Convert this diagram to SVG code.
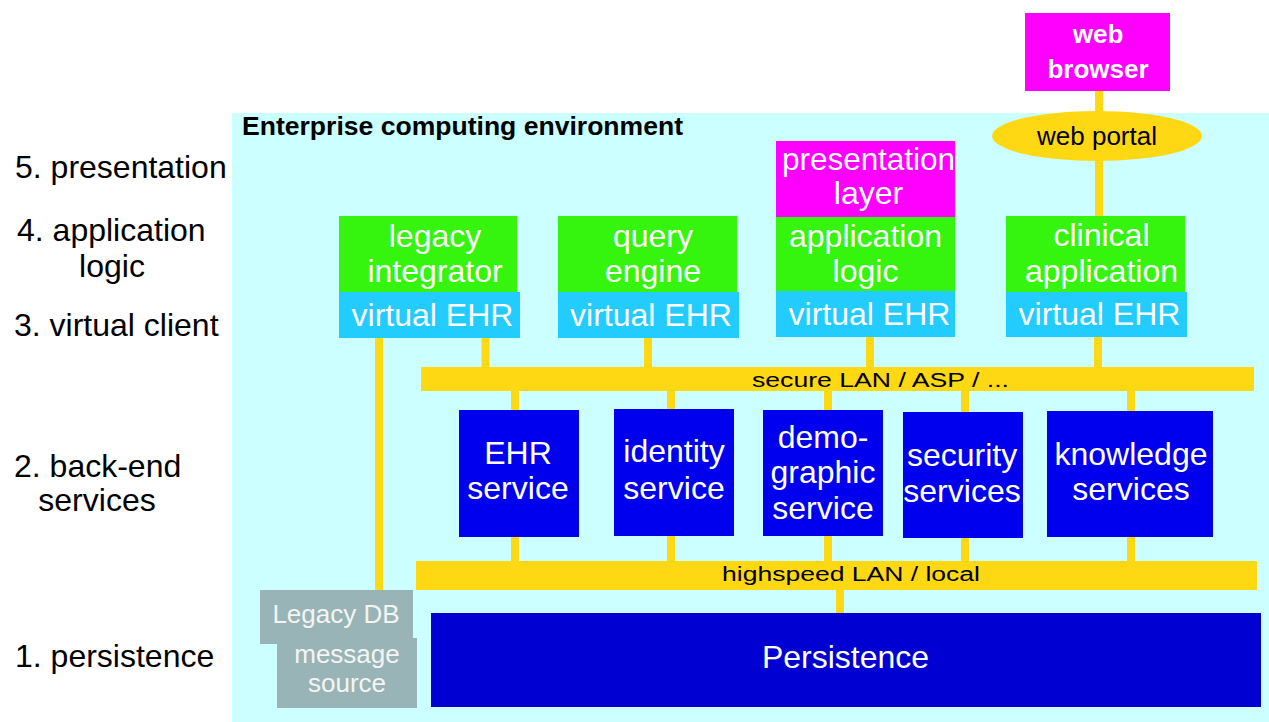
<svg xmlns="http://www.w3.org/2000/svg" width="1269" height="722" viewBox="0 0 1269 722">
<style>
text{font-family:"Liberation Sans",Arial,sans-serif;}
.lbl{font-size:32px;fill:#000;}
.w{font-size:32px;fill:#fff;text-anchor:middle;}
.g{fill:#35F50F;}
.v{fill:#22CCFF;}
.m{fill:#FF00FF;}
.s{fill:#0000EE;}
.y{fill:#FFD814;}
.gr{fill:#98B4B6;}
.bus{font-size:20px;fill:#000;text-anchor:middle;}
.con line{stroke:#FFD814;stroke-width:8;}
</style>
<rect width="1269" height="722" fill="#ffffff"/>
<rect id="enterprise" x="232" y="113" width="1037" height="609" fill="#CCFFFF"/>
<text x="242" y="135" font-size="26" font-weight="bold" textLength="441" lengthAdjust="spacingAndGlyphs">Enterprise computing environment</text>
<g id="layers">
<text class="lbl" x="15" y="178">5. presentation</text>
<text class="lbl" x="17" y="241">4. application</text>
<text class="lbl" x="112" y="277" text-anchor="middle">logic</text>
<text class="lbl" x="14" y="336">3. virtual client</text>
<text class="lbl" x="14" y="477">2. back-end</text>
<text class="lbl" x="97" y="511" text-anchor="middle">services</text>
<text class="lbl" x="15" y="667">1. persistence</text>
</g>
<g id="connectors" class="con">
<line x1="1099" y1="90" x2="1099" y2="112"/>
<line x1="1099" y1="160" x2="1099" y2="217"/>
<line x1="379" y1="337" x2="379" y2="591"/>
<line x1="485.5" y1="337" x2="485.5" y2="368"/>
<line x1="648" y1="337" x2="648" y2="368"/>
<line x1="870" y1="336" x2="870" y2="368"/>
<line x1="1098" y1="336" x2="1098" y2="368"/>
<line x1="515" y1="390" x2="515" y2="411"/>
<line x1="671" y1="390" x2="671" y2="410"/>
<line x1="828" y1="390" x2="828" y2="411"/>
<line x1="965" y1="390" x2="965" y2="413"/>
<line x1="1131" y1="390" x2="1131" y2="412"/>
<line x1="515" y1="536" x2="515" y2="562"/>
<line x1="671" y1="535" x2="671" y2="562"/>
<line x1="828" y1="535" x2="828" y2="562"/>
<line x1="965" y1="537" x2="965" y2="562"/>
<line x1="1131" y1="536" x2="1131" y2="562"/>
<line x1="840" y1="589" x2="840" y2="614"/>
</g>
<g id="web-browser">
<rect class="m" x="1025" y="13" width="145" height="78"/>
<text x="1098" y="43" font-size="26" font-weight="bold" fill="#fff" text-anchor="middle">web</text>
<text x="1098" y="78" font-size="26" font-weight="bold" fill="#fff" text-anchor="middle">browser</text>
</g>
<g id="web-portal">
<ellipse class="y" cx="1097" cy="136" rx="105" ry="25"/>
<text x="1097" y="145" font-size="26" fill="#000" text-anchor="middle">web portal</text>
</g>
<g id="legacy-integrator">
<rect class="g" x="339" y="216" width="178" height="76"/>
<text class="w" x="435" y="247">legacy</text>
<text class="w" x="435" y="282">integrator</text>
</g>
<g id="legacy-virtual-ehr">
<rect class="v" x="339" y="292" width="181" height="46"/>
<text class="w" x="432.5" y="326">virtual EHR</text>
</g>
<g id="query-engine">
<rect class="g" x="558" y="216" width="179" height="76"/>
<text class="w" x="653" y="247">query</text>
<text class="w" x="653" y="282">engine</text>
</g>
<g id="query-virtual-ehr">
<rect class="v" x="558" y="292" width="181" height="46"/>
<text class="w" x="651" y="326">virtual EHR</text>
</g>
<g id="presentation-layer">
<rect class="m" x="776" y="141" width="179" height="76"/>
<text class="w" x="868.5" y="170" textLength="173" lengthAdjust="spacingAndGlyphs">presentation</text>
<text class="w" x="868.5" y="204">layer</text>
</g>
<g id="application-logic">
<rect class="g" x="776" y="217" width="179" height="74"/>
<text class="w" x="865.5" y="247">application</text>
<text class="w" x="865.5" y="282">logic</text>
</g>
<g id="applogic-virtual-ehr">
<rect class="v" x="776" y="291" width="179" height="46"/>
<text class="w" x="869.5" y="325">virtual EHR</text>
</g>
<g id="clinical-application">
<rect class="g" x="1006" y="216" width="179" height="76"/>
<text class="w" x="1101.5" y="246">clinical</text>
<text class="w" x="1101.5" y="282">application</text>
</g>
<g id="clinical-virtual-ehr">
<rect class="v" x="1006" y="292" width="181" height="45"/>
<text class="w" x="1099.5" y="325">virtual EHR</text>
</g>
<g id="secure-lan">
<rect class="y" x="421" y="367" width="833" height="24"/>
<text class="bus" x="880.5" y="387" textLength="257" lengthAdjust="spacingAndGlyphs">secure LAN / ASP / ...</text>
</g>
<g id="ehr-service">
<rect class="s" x="459" y="410" width="120" height="127"/>
<text class="w" x="518" y="464">EHR</text>
<text class="w" x="518" y="499">service</text>
</g>
<g id="identity-service">
<rect class="s" x="614" y="409" width="120" height="127"/>
<text class="w" x="674" y="462">identity</text>
<text class="w" x="674" y="499">service</text>
</g>
<g id="demographic-service">
<rect class="s" x="763" y="410" width="120" height="126"/>
<text class="w" x="823" y="448">demo-</text>
<text class="w" x="823" y="483">graphic</text>
<text class="w" x="823" y="519">service</text>
</g>
<g id="security-services">
<rect class="s" x="903" y="412" width="120" height="126"/>
<text class="w" x="962" y="466">security</text>
<text class="w" x="962" y="502">services</text>
</g>
<g id="knowledge-services">
<rect class="s" x="1047" y="411" width="166" height="126"/>
<text class="w" x="1131" y="465">knowledge</text>
<text class="w" x="1131" y="500">services</text>
</g>
<g id="highspeed-lan">
<rect class="y" x="416" y="561" width="841" height="29"/>
<text class="bus" x="851" y="581" textLength="258" lengthAdjust="spacingAndGlyphs">highspeed LAN / local</text>
</g>
<g id="legacy-db">
<rect class="gr" x="260" y="590" width="153" height="54"/>
<text x="336" y="623" font-size="26" fill="#F4F4F4" text-anchor="middle">Legacy DB</text>
</g>
<g id="message-source">
<rect class="gr" x="277" y="638" width="140" height="70"/>
<text x="347" y="663" font-size="26" fill="#F4F4F4" text-anchor="middle">message</text>
<text x="347" y="692" font-size="26" fill="#F4F4F4" text-anchor="middle">source</text>
</g>
<g id="persistence">
<rect x="431" y="613" width="830" height="94" fill="#0000D2"/>
<text class="w" x="845.5" y="668" font-size="31">Persistence</text>
</g>
</svg>
